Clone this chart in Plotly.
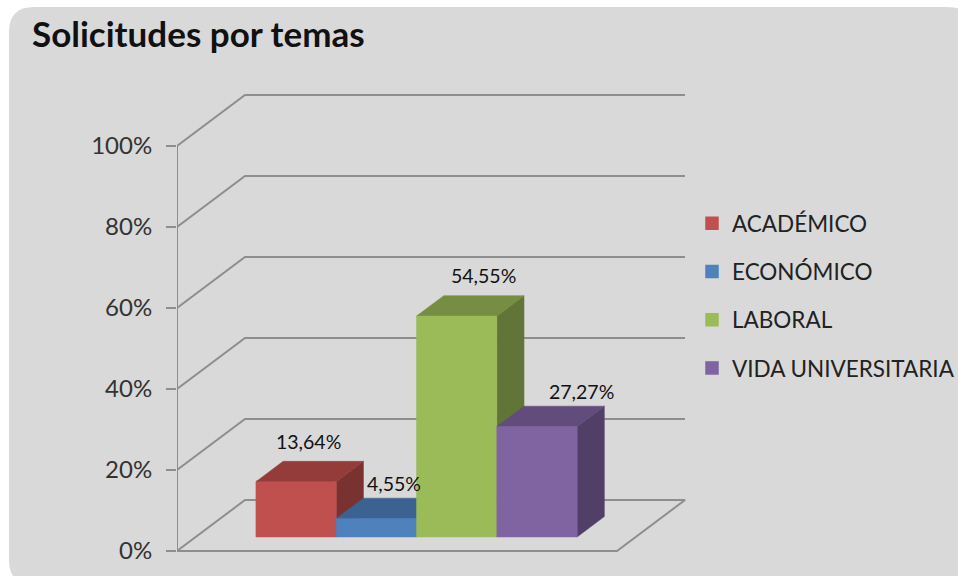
import plotly.graph_objects as go

categories = ["ACADÉMICO", "ECONÓMICO", "LABORAL", "VIDA UNIVERSITARIA"]
values = [13.64, 4.55, 54.55, 27.27]
y_ticks = [0, 20, 40, 60, 80, 100]
tick_labels = ["0%", "20%", "40%", "60%", "80%", "100%"]
title = "Solicitudes por temas"

front_colors = ["#C0504D", "#4F81BD", "#9BBB59", "#8064A2"]
top_colors = ["#943C3A", "#3C6291", "#768E43", "#614C7B"]
side_colors = ["#7A3230", "#32527A", "#627538", "#513F67"]
label_dx = [12, 18, 27, 45]
label_dy = [20, 15, 20, 15]

W, H = 1000, 576     # the page window crops the figure at 958, as the reference's panel is cut there
AX_L = 177
PX_X = 80.3          # pixels per category unit
PX_Y = 4.05          # pixels per percent
Y0 = 551             # page row of the 0% level
FLOOR_W = 440 / PX_X
DEPTH_X = 68 / PX_X
DEPTH_Y = 51 / PX_Y
BAR_START = 0.75
D_FRONT, D_BACK = 0.275, 0.675
GRID = "#8E8E8E"


def proj(u, d, p):
    return u + d * DEPTH_X, p + d * DEPTH_Y


def poly(points, color):
    xs, ys = zip(*[proj(*pt) for pt in points])
    return go.Scatter(x=list(xs), y=list(ys), mode="lines", fill="toself", fillcolor=color,
                      line=dict(color=color, width=0.5), showlegend=False, hoverinfo="skip")


def line(points, width=2):
    xs, ys = zip(*[proj(*pt) for pt in points])
    return go.Scatter(x=list(xs), y=list(ys), mode="lines", line=dict(color=GRID, width=width),
                      showlegend=False, hoverinfo="skip")


fig = go.Figure()

# bars: real data and legend entries
for i, (c, v) in enumerate(zip(categories, values)):
    bx, by = proj(BAR_START + i + 0.5, D_FRONT, 0)
    fig.add_trace(go.Bar(x=[bx], y=[v], base=[by], width=[0.95], name=c, legendgroup=c,
                         marker=dict(color=front_colors[i], line=dict(width=1.5, color=front_colors[i]))))

# walls
for t in y_ticks[1:]:
    fig.add_trace(line([(0, 0, t), (0, 1, t), (FLOOR_W, 1, t)]))
fig.add_trace(line([(0, 0, 0), (0, 0, 100)]))
fig.add_trace(line([(0, 0, 0), (0, 1, 0), (FLOOR_W, 1, 0), (FLOOR_W, 0, 0), (0, 0, 0)]))

# 3-D faces, painted left to right
for i, v in enumerate(values):
    u0, u1 = BAR_START + i, BAR_START + i + 1
    fig.add_trace(poly([(u1, D_FRONT, 0), (u1, D_BACK, 0), (u1, D_BACK, v), (u1, D_FRONT, v), (u1, D_FRONT, 0)],
                       side_colors[i]))
    fig.add_trace(poly([(u0, D_FRONT, v), (u0, D_BACK, v), (u1, D_BACK, v), (u1, D_FRONT, v), (u0, D_FRONT, v)],
                       top_colors[i]))
    fig.add_trace(poly([(u0, D_FRONT, 0), (u0, D_FRONT, v), (u1, D_FRONT, v), (u1, D_FRONT, 0), (u0, D_FRONT, 0)],
                       front_colors[i]))

annotations = []
for i, v in enumerate(values):
    _, ay = proj(0, D_BACK, v)
    ax, _ = proj(BAR_START + i + 0.5, D_FRONT, v)
    annotations.append(dict(x=ax, y=ay, xref="x", yref="y", text=f"{v:.2f}%".replace(".", ","),
                            showarrow=False, xshift=label_dx[i], yshift=label_dy[i],
                            font=dict(family="Lato", size=19.5, color="#111111")))

# rounded panel, running past the right and bottom page edges
L, T, R, B, r, rr = 9, 7, 985, 585, 25, 40
def px(x): return x / W
def py(y): return 1 - y / H
panel = (f"M {px(L + r)},{py(T)} L {px(R - rr)},{py(T)} Q {px(R)},{py(T)} {px(R)},{py(T + rr)} "
         f"L {px(R)},{py(B)} "
         f"L {px(L + r)},{py(B)} Q {px(L)},{py(B)} {px(L)},{py(B - r)} "
         f"L {px(L)},{py(T + r)} Q {px(L)},{py(T)} {px(L + r)},{py(T)} Z")

fig.update_layout(
    width=W, height=H, autosize=False,
    margin=dict(l=0, r=0, t=0, b=0, pad=0),
    paper_bgcolor="white", plot_bgcolor="rgba(0,0,0,0)",
    barmode="overlay", bargap=0,
    font=dict(family="Lato", color="#222222"),
    title=dict(text=title, x=32 / W, xanchor="left", xref="paper", y=1 - 35 / H, yanchor="middle", yref="paper",
               font=dict(family="Lato", size=35, color="#111111", weight="bold")),
    shapes=[dict(type="path", path=panel, xref="paper", yref="paper", fillcolor="#D9D9D9",
                 line=dict(width=0), layer="below")],
    annotations=annotations,
    xaxis=dict(domain=[AX_L / W, 1], range=[0, (W - AX_L) / PX_X], visible=False, fixedrange=True),
    yaxis=dict(domain=[0, 1], range=[-(H - Y0) / PX_Y, Y0 / PX_Y], tickmode="array", tickvals=y_ticks,
               ticktext=tick_labels, ticks="outside", ticklen=10, tickwidth=2, tickcolor=GRID,
               ticklabelstandoff=9,
               tickfont=dict(family="Lato", size=24, color="#333333"), showgrid=False, zeroline=False,
               showline=False, fixedrange=True),
    legend=dict(x=692 / W, y=1 - 202 / H, xanchor="left", yanchor="top", bgcolor="rgba(0,0,0,0)",
                font=dict(family="Lato", size=22.5, color="#222222"), tracegroupgap=16,
                traceorder="grouped", itemwidth=30),
)

fig.write_html("out.html", config={"displayModeBar": False},
               post_script="document.body.style.margin='0';document.documentElement.style.overflow='hidden';document.body.style.overflow='hidden';")
